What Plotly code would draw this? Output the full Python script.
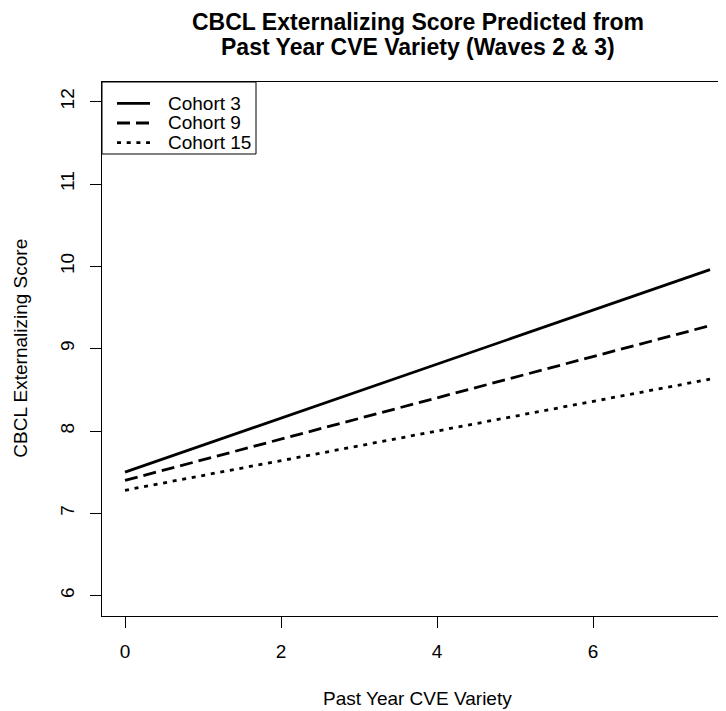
import plotly.graph_objects as go

# ---- data ----
x_vals = [0, 7.5]
cohort_names = ["Cohort 3", "Cohort 9", "Cohort 15"]
cohort_start = [7.50, 7.40, 7.28]
cohort_end = [9.96, 9.28, 8.63]
x_ticks = [0, 2, 4, 6]
y_ticks = [6, 7, 8, 9, 10, 11, 12]

dashes = ["solid", "13px,6px", "4px,5.7px"]

# page is drawn with an 8px body margin, so the figure is offset by (8, 8)
OFF = 8
W, H = 726 - OFF, 711 - OFF
PL, PT, PR, PB = 102, 82, 726, 616          # plot area in page pixels
ML, MT = PL - OFF, PT - OFF
MR = 0
MB = H - (PB - OFF)
PW, PH = PR - PL, PB - PT

def xp(px):
    return (px - PL) / PW

def yp(py):
    return (PB - py) / PH

FONT = "Liberation Sans, Arial, Helvetica, sans-serif"

fig = go.Figure()
for name, s, e, d in zip(cohort_names, cohort_start, cohort_end, dashes):
    fig.add_trace(go.Scatter(
        x=x_vals, y=[s, e], mode="lines", name=name,
        line=dict(color="black", width=2.8, dash=d),
        showlegend=False,
    ))

axis_common = dict(
    showgrid=False, zeroline=False, showline=True, linecolor="black", linewidth=1,
    ticks="outside", ticklen=11, tickwidth=1, tickcolor="black",
    tickfont=dict(family=FONT, size=19, color="black"),
)

fig.update_xaxes(range=[-0.295, 7.705], tickvals=x_ticks, mirror=True,
                 ticklabelstandoff=7, **axis_common)
fig.update_yaxes(range=[5.753, 12.239], tickvals=y_ticks, tickangle=-90,
                 ticklabelstandoff=8, **axis_common)

annotations = [
    dict(text="<b>CBCL Externalizing Score Predicted from</b>", x=xp(417.5), y=yp(21.7)),
    dict(text="<b>Past Year CVE Variety (Waves 2 & 3)</b>", x=xp(417.5), y=yp(46.7)),
]
for a in annotations:
    a.update(xref="paper", yref="paper", showarrow=False, xanchor="center", yanchor="middle",
             font=dict(family=FONT, size=23, color="black"))

annotations.append(dict(text="Past Year CVE Variety", x=xp(417.5), y=yp(698), xref="paper",
                        yref="paper", showarrow=False, xanchor="center", yanchor="middle",
                        font=dict(family=FONT, size=19, color="black")))
annotations.append(dict(text="CBCL Externalizing Score", x=xp(21), y=yp(348.7), xref="paper",
                        yref="paper", showarrow=False, xanchor="center", yanchor="middle",
                        textangle=-90, font=dict(family=FONT, size=19, color="black")))

# legend box
shapes = [dict(type="rect", xref="paper", yref="paper", x0=xp(102), x1=xp(256),
               y0=yp(154), y1=yp(82), line=dict(color="black", width=1), fillcolor="white")]
row_y = [103.3, 123.0, 142.7]
for name, d, ry in zip(cohort_names, dashes, row_y):
    shapes.append(dict(type="line", xref="paper", yref="paper", x0=xp(117), x1=xp(150),
                       y0=yp(ry), y1=yp(ry), line=dict(color="black", width=2.8, dash=d)))
    annotations.append(dict(text=name, x=xp(166), y=yp(ry), xref="paper", yref="paper",
                            showarrow=False, xanchor="left", yanchor="middle",
                            font=dict(family=FONT, size=19, color="black")))

fig.update_layout(
    width=W, height=H,
    margin=dict(l=ML, r=MR, t=MT, b=MB, pad=0),
    plot_bgcolor="white", paper_bgcolor="white",
    annotations=annotations, shapes=shapes,
    showlegend=False,
)

fig.write_html("out.html")
